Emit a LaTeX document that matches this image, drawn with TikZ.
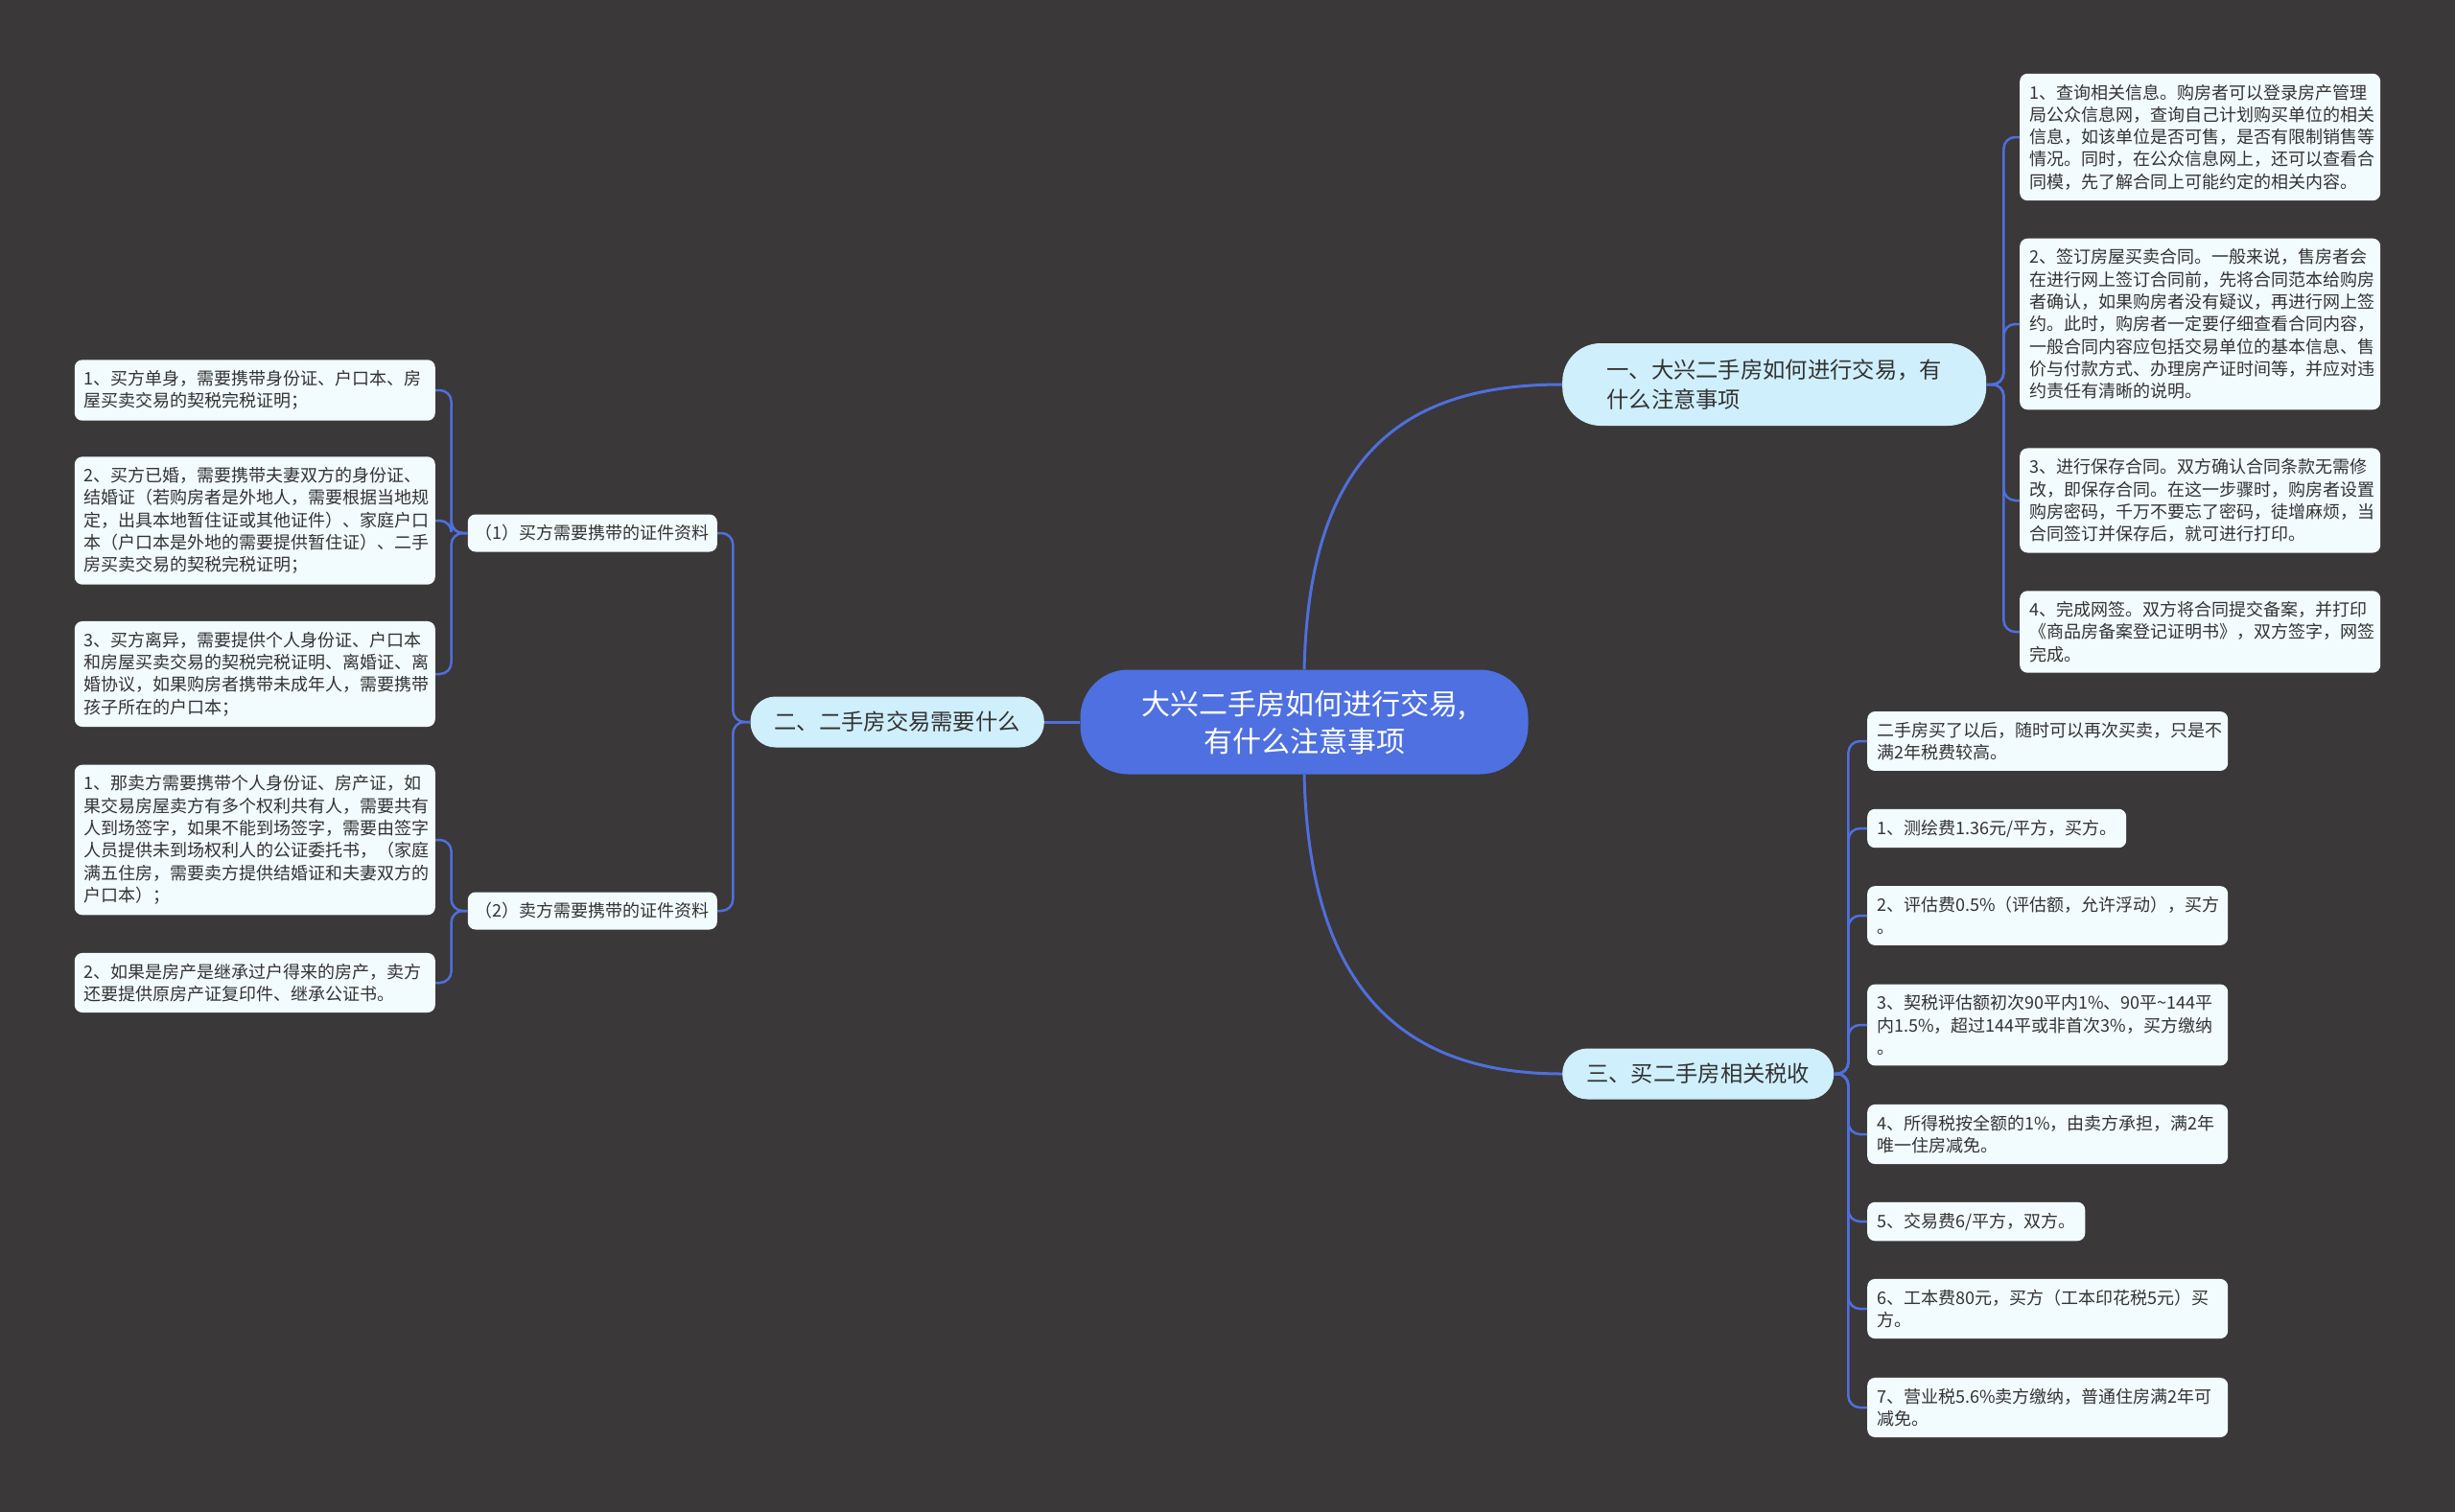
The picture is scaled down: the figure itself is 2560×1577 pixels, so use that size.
\documentclass[tikz,border=0pt]{standalone}
\usepackage{fontspec}
\setmainfont{Noto Sans CJK SC}

\definecolor{bgdark}{HTML}{3A3839}
\definecolor{rootblue}{HTML}{4E70E0}
\definecolor{linkblue}{HTML}{4F6FDC}
\definecolor{branchfill}{HTML}{CFEFFC}
\definecolor{leaffill}{HTML}{F2FBFE}
\definecolor{inkgray}{HTML}{333333}

\begin{document}
\begin{tikzpicture}[x=1pt, y=-1pt,
  rootbox/.style={fill=rootblue, text=white, rounded corners=50pt, align=center, minimum width=467pt, minimum height=109pt, font=\fontsize{30}{39}\selectfont},
  branchbox/.style={fill=branchfill, text=inkgray, rounded corners=26pt, align=left, inner xsep=25pt, minimum height=53pt, font=\fontsize{23.3}{31}\selectfont},
  subbox/.style={fill=leaffill, text=inkgray, rounded corners=8pt, minimum width=260pt, minimum height=39pt, font=\fontsize{18}{23.3}\selectfont},
  leafbase/.style={fill=leaffill, text=inkgray, rounded corners=8pt, align=left, inner xsep=10pt, inner ysep=11pt, font=\fontsize{18}{23.3}\selectfont},
  leafbox/.style={leafbase, text width=356pt},
  mainlink/.style={draw=linkblue, line width=3pt},
  sublink/.style={draw=linkblue, line width=2.5pt, rounded corners=12pt}]

  % Background
  \fill[bgdark] (0,0) rectangle (2560,1577);
  \useasboundingbox (0,0) rectangle (2560,1577);

  % Root
  \node[rootbox] (root) at (1360,753) {大兴二手房如何进行交易,\\有什么注意事项};

  % Branches
  \node[branchbox, anchor=west, rounded corners=40pt, inner xsep=42pt, minimum width=442pt, minimum height=86pt] (b1) at (1629,401) {一、大兴二手房如何进行交易，有\\什么注意事项};
  \node[branchbox, anchor=east] (b2) at (1089,753) {二、二手房交易需要什么};
  \node[branchbox, anchor=west] (b3) at (1629,1120) {三、买二手房相关税收};

  % Branch 1 leaves
  \node[leafbox, anchor=west] (l1) at (2106,143) {1、查询相关信息。购房者可以登录房产管理\\局公众信息网，查询自己计划购买单位的相关\\信息，如该单位是否可售，是否有限制销售等\\情况。同时，在公众信息网上，还可以查看合\\同模，先了解合同上可能约定的相关内容。};
  \node[leafbox, anchor=west] (l2) at (2106,338) {2、签订房屋买卖合同。一般来说，售房者会\\在进行网上签订合同前，先将合同范本给购房\\者确认，如果购房者没有疑议，再进行网上签\\约。此时，购房者一定要仔细查看合同内容，\\一般合同内容应包括交易单位的基本信息、售\\价与付款方式、办理房产证时间等，并应对违\\约责任有清晰的说明。};
  \node[leafbox, anchor=west] (l3) at (2106,522) {3、进行保存合同。双方确认合同条款无需修\\改，即保存合同。在这一步骤时，购房者设置\\购房密码，千万不要忘了密码，徒增麻烦，当\\合同签订并保存后，就可进行打印。};
  \node[leafbox, anchor=west] (l4) at (2106,659) {4、完成网签。双方将合同提交备案，并打印\\《商品房备案登记证明书》，双方签字，网签\\完成。};

  % Branch 2 sub-branches
  \node[subbox, anchor=east] (s1) at (748,556) {（1）买方需要携带的证件资料};
  \node[subbox, anchor=east] (s2) at (748,950) {（2）卖方需要携带的证件资料};

  % Buyer documents
  \node[leafbox, anchor=east] (a1) at (454,407) {1、买方单身，需要携带身份证、户口本、房\\屋买卖交易的契税完税证明；};
  \node[leafbox, anchor=east] (a2) at (454,543) {2、买方已婚，需要携带夫妻双方的身份证、\\结婚证（若购房者是外地人，需要根据当地规\\定，出具本地暂住证或其他证件）、家庭户口\\本（户口本是外地的需要提供暂住证）、二手\\房买卖交易的契税完税证明；};
  \node[leafbox, anchor=east] (a3) at (454,703) {3、买方离异，需要提供个人身份证、户口本\\和房屋买卖交易的契税完税证明、离婚证、离\\婚协议，如果购房者携带未成年人，需要携带\\孩子所在的户口本；};

  % Seller documents
  \node[leafbox, anchor=east] (p1) at (454,876) {1、那卖方需要携带个人身份证、房产证，如\\果交易房屋卖方有多个权利共有人，需要共有\\人到场签字，如果不能到场签字，需要由签字\\人员提供未到场权利人的公证委托书，（家庭\\满五住房，需要卖方提供结婚证和夫妻双方的\\户口本）；};
  \node[leafbox, anchor=east] (p2) at (454,1025) {2、如果是房产是继承过户得来的房产，卖方\\还要提供原房产证复印件、继承公证书。};

  % Branch 3 leaves (taxes)
  \node[leafbox, anchor=west] (t0) at (1947,773) {二手房买了以后，随时可以再次买卖，只是不\\满2年税费较高。};
  \node[leafbase, anchor=west] (t1) at (1947,864) {1、测绘费1.36元/平方，买方。};
  \node[leafbox, anchor=west] (t2) at (1947,955) {2、评估费0.5\%（评估额，允许浮动），买方\\。};
  \node[leafbox, anchor=west] (t3) at (1947,1069) {3、契税评估额初次90平内1\%、90平\textasciitilde144平\\内1.5\%，超过144平或非首次3\%，买方缴纳\\。};
  \node[leafbox, anchor=west] (t4) at (1947,1183) {4、所得税按全额的1\%，由卖方承担，满2年\\唯一住房减免。};
  \node[leafbase, anchor=west] (t5) at (1947,1274) {5、交易费6/平方，双方。};
  \node[leafbox, anchor=west] (t6) at (1947,1365) {6、工本费80元，买方（工本印花税5元）买\\方。};
  \node[leafbox, anchor=west] (t7) at (1947,1468) {7、营业税5.6\%卖方缴纳，普通住房满2年可\\减免。};

  % Root to branches
  \draw[mainlink] (root.north) .. controls +(5,-220) and +(-170,0) .. (b1.west);
  \draw[mainlink] (root.south) .. controls +(5,220) and +(-170,0) .. (b3.west);
  \draw[mainlink] (root.west) -- (b2.east);

  % Branches to children
  \foreach \n in {l1,l2,l3,l4}
    \draw[sublink] (b1.east) -- ++(18,0) |- (\n.west);
  \foreach \n in {t0,t1,t2,t3,t4,t5,t6,t7}
    \draw[sublink] (b3.east) -- ++(15,0) |- (\n.west);
  \foreach \n in {s1,s2}
    \draw[sublink] (b2.west) -- ++(-18,0) |- (\n.east);
  \foreach \n in {a1,a2,a3}
    \draw[sublink] (s1.west) -- ++(-17,0) |- (\n.east);
  \foreach \n in {p1,p2}
    \draw[sublink] (s2.west) -- ++(-17,0) |- (\n.east);
\end{tikzpicture}
\end{document}
